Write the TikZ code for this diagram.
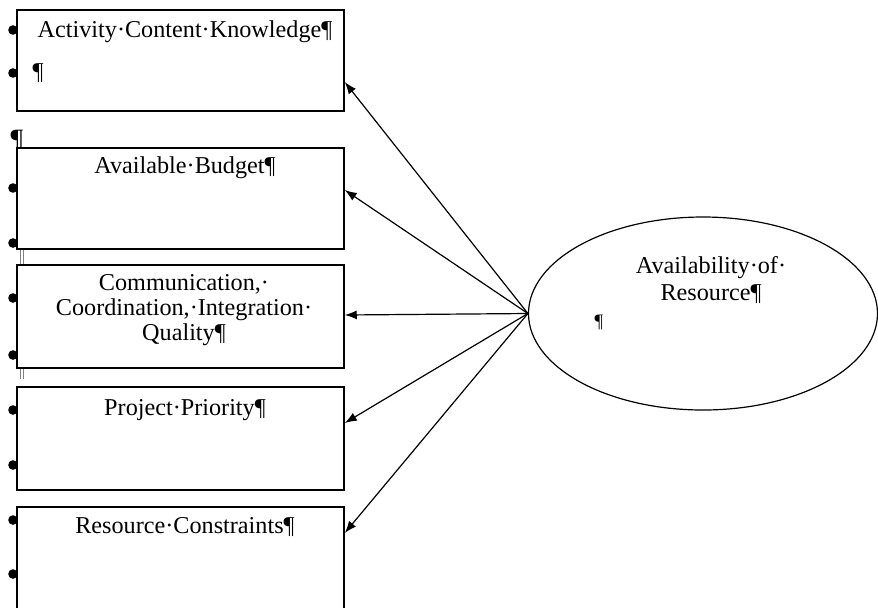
\documentclass[tikz,border=0pt]{standalone}
\usepackage{fontspec}
\setmainfont{Liberation Serif}
\usetikzlibrary{shapes.geometric,arrows.meta}

\begin{document}
\begin{tikzpicture}[x=0.5pt,y=-0.5pt,
  factor/.style={draw, line width=0.75pt, fill=white, minimum width=163.5pt, inner sep=0pt},
  txt/.style={font=\fontsize{12.1}{12.6}\selectfont, inner sep=0pt},
  keepdot/.style={fill=black, circle, inner sep=0pt, minimum size=4.8pt},
  arr/.style={-{Latex[length=6pt,width=4.5pt]}, line width=0.6pt}]
\useasboundingbox (0,0) rectangle (878,607);
\clip (0,0) rectangle (878,607);

% paragraph marks down the left margin
\foreach \y in {30,73,188,243,298,355,410,465,520,574}
  \node[keepdot] at (13,\y) {};
\node[txt, anchor=base, font=\fontsize{14}{15}\selectfont] (gap-p) at (17,148) {¶};
\draw[gray, line width=0.4pt] (20,249) -- (20,264) (23.5,249) -- (23.5,264);
\draw[gray, line width=0.4pt] (20,368) -- (20,379) (23.5,368) -- (23.5,379);

% factor boxes
\node[factor, minimum height=50.5pt] (ack) at (180.5,60.5) {};
\node[factor, minimum height=50.5pt] (ab) at (180.5,198.5) {};
\node[factor, minimum height=51.5pt] (ccq) at (180.5,316.5) {};
\node[factor, minimum height=51.5pt] (pp) at (180.5,438.5) {};
\node[factor, minimum height=51.5pt] (rc) at (180.5,558.5) {};

\node[txt, anchor=base] (ack-t) at (185,37) {Activity·Content·Knowledge¶};
\node[txt, anchor=base] (ack-p) at (38,79) {¶};
\node[txt, anchor=base] (ab-t) at (185,173) {Available·Budget¶};
\node[txt, align=center] (ccq-t) at (184,310) {Communication,·\\Coordination,·Integration·\\Quality¶};
\node[txt, anchor=base] (pp-t) at (185,415) {Project·Priority¶};
\node[txt, anchor=base] (rc-t) at (185,533) {Resource·Constraints¶};

% latent variable
\node[draw, ellipse, line width=0.6pt, minimum width=174.5pt, minimum height=96.5pt, inner sep=0pt] (avail) at (703,313.5) {};
\node[txt, align=center, font=\fontsize{12.1}{13.2}\selectfont] (avail-t) at (711,280) {Availability·of·\\Resource¶};
\node[txt, anchor=base, font=\fontsize{9.5}{10}\selectfont] (avail-p) at (599,327) {¶};

\draw[arr] (avail.west) -- (ack.east |- 0,82);
\draw[arr] (avail.west) -- (ab.east |- 0,190);
\draw[arr] (avail.west) -- (ccq.east |- 0,315);
\draw[arr] (avail.west) -- (pp.east |- 0,423);
\draw[arr] (avail.west) -- (rc.east |- 0,533);
\end{tikzpicture}
\end{document}
